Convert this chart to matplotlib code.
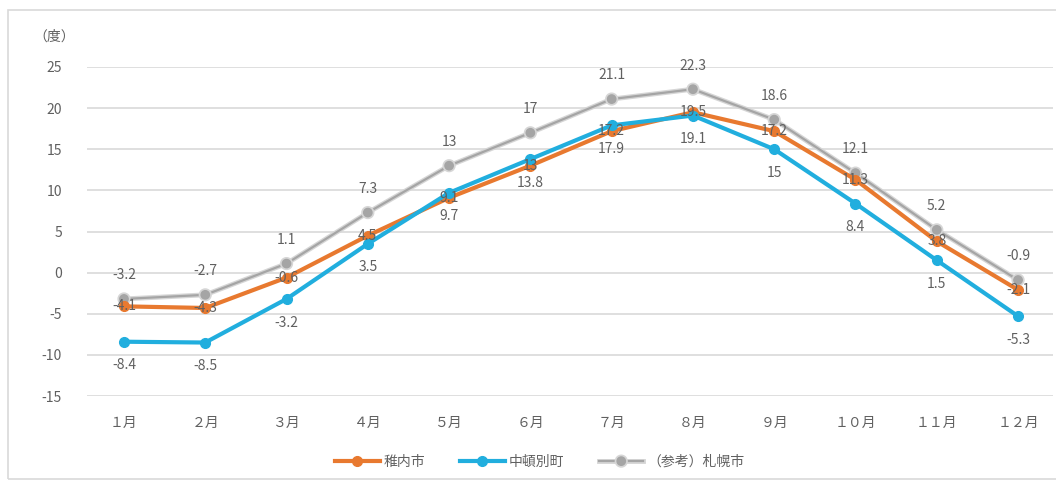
import matplotlib.pyplot as plt
import matplotlib.patheffects as pe
from matplotlib.patches import Rectangle

plt.rcParams['font.family'] = ['Noto Sans CJK JP', 'DejaVu Sans']
plt.rcParams['axes.unicode_minus'] = False

# 月別平均気温
months = ['１月', '２月', '３月', '４月', '５月', '６月',
          '７月', '８月', '９月', '１０月', '１１月', '１２月']
wakkanai = [-4.1, -4.3, -0.6, 4.5, 9.1, 13, 17.2, 19.5, 17.2, 11.3, 3.8, -2.1]
nakatonbetsu = [-8.4, -8.5, -3.2, 3.5, 9.7, 13.8, 17.9, 19.1, 15, 8.4, 1.5, -5.3]
sapporo = [-3.2, -2.7, 1.1, 7.3, 13, 17, 21.1, 22.3, 18.6, 12.1, 5.2, -0.9]
yticks = [-15, -10, -5, 0, 5, 10, 15, 20, 25]

c_orange = '#E8792F'
c_blue = '#21AEDE'
c_gray = '#A5A5A5'
c_text = '#606060'

W, H = 1056, 484
fig = plt.figure(figsize=(W / 100, H / 100), dpi=100)
fig.patches.append(Rectangle((8 / W, 0.01), 1.2, (H - 10) / H - 0.01,
                             transform=fig.transFigure, fill=False,
                             edgecolor='#D9D9D9', linewidth=1.2))

ax = fig.add_axes([87 / W, (H - 396) / H, (1053 - 87) / W, (396 - 67) / H])
x = list(range(len(months)))

ax.plot(x, sapporo, color=c_gray, lw=1.6, marker='o', ms=6, zorder=3,
        label='（参考）札幌市', clip_on=False,
        path_effects=[pe.Stroke(linewidth=3.5, foreground='#D6D6D6'), pe.Normal()])
ax.plot(x, wakkanai, color=c_orange, lw=3, marker='o', ms=7, zorder=4,
        label='稚内市', clip_on=False)
ax.plot(x, nakatonbetsu, color=c_blue, lw=3, marker='o', ms=7, zorder=5,
        label='中頓別町', clip_on=False)

for i in x:
    ax.annotate(f'{sapporo[i]:g}', (i, sapporo[i]), xytext=(0, 17),
                textcoords='offset points', ha='center', va='center',
                fontsize=10, color=c_text)
    ax.annotate(f'{wakkanai[i]:g}', (i, wakkanai[i]), xytext=(0, 0),
                textcoords='offset points', ha='center', va='center',
                fontsize=10, color=c_text, zorder=6)
    ax.annotate(f'{nakatonbetsu[i]:g}', (i, nakatonbetsu[i]), xytext=(0, -17),
                textcoords='offset points', ha='center', va='center',
                fontsize=10, color=c_text)

ax.set_xlim(-0.455, 11.43)
ax.set_ylim(-15, 25)
ax.set_yticks(yticks)
ax.set_xticks(x)
ax.set_xticklabels(months)
ax.tick_params(length=0, labelsize=10, colors=c_text)
ax.tick_params(axis='x', pad=14)
ax.tick_params(axis='y', pad=18)
ax.grid(axis='y', color='#D9D9D9', lw=1.2)
ax.set_axisbelow(True)
for s in ax.spines.values():
    s.set_visible(False)

fig.text(54 / W, (H - 37) / H, '（度）', fontsize=10, color=c_text,
         ha='center', va='center')

handles, labels = ax.get_legend_handles_labels()
order = [1, 2, 0]
fig.legend([handles[k] for k in order], [labels[k] for k in order],
           loc='center', bbox_to_anchor=(540 / W, (H - 462) / H), ncol=3,
           frameon=False, fontsize=10, labelcolor=c_text, handlelength=3.2,
           columnspacing=2.5, handletextpad=0.3)

fig.savefig('out.png', dpi=100, facecolor='white')
